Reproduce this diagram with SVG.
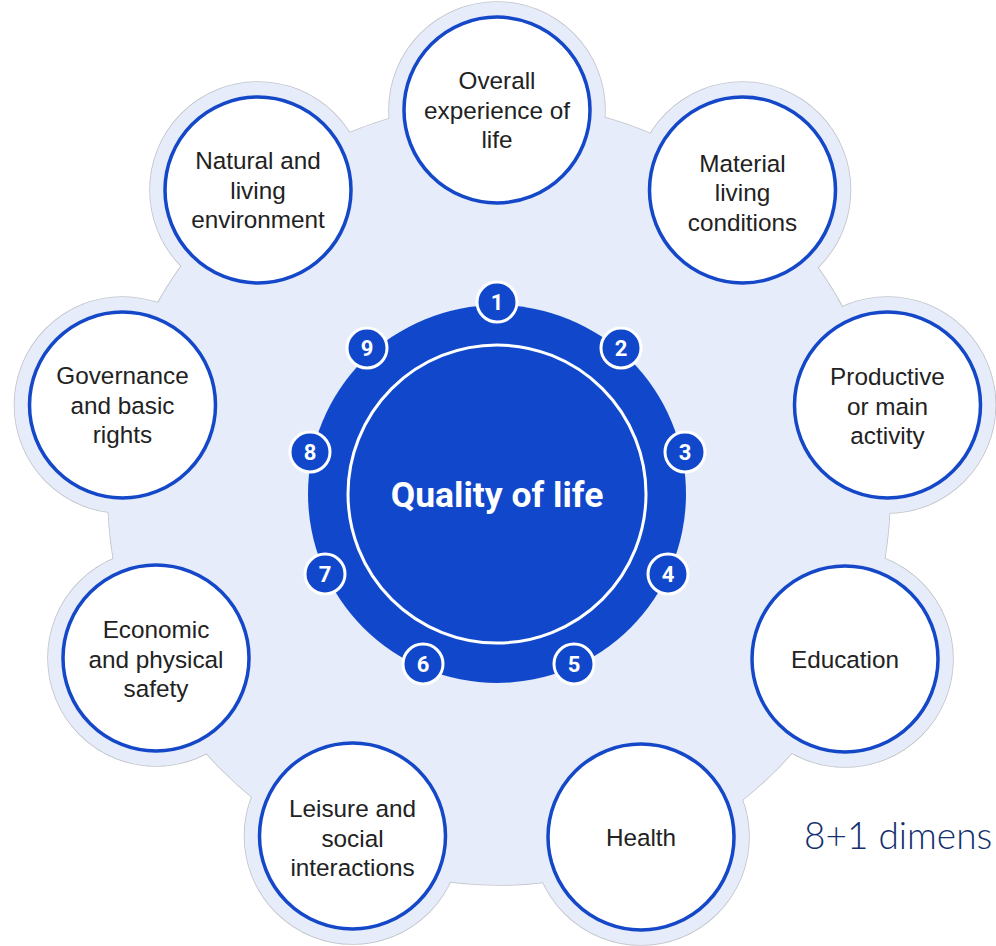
<svg xmlns="http://www.w3.org/2000/svg" width="996" height="946" viewBox="0 0 996 946">
<style>
.bgs{fill:none;stroke:#c2c4ca;stroke-width:1.6}
.bgf{fill:#e6ecf9}
.node{fill:#ffffff;stroke:#1448c8;stroke-width:3.5}
.lbl{font-family:"Liberation Sans",Arial,sans-serif;font-size:24.3px;fill:#222222;text-anchor:middle}
.badge{fill:#1148cb;stroke:#ffffff;stroke-width:3}
.num{font-family:Roboto,"Liberation Sans",sans-serif;font-weight:700;font-size:22px;fill:#ffffff;text-anchor:middle}
</style>
<rect width="996" height="946" fill="#ffffff"/>
<g id="background">
  <g class="bgs">
    <circle cx="499" cy="494" r="391"/>
    <circle cx="497" cy="110" r="108"/>
    <circle cx="742.5" cy="190" r="108"/>
    <circle cx="887.5" cy="405" r="108"/>
    <circle cx="845" cy="659" r="108"/>
    <circle cx="641" cy="837" r="108"/>
    <circle cx="352.5" cy="836" r="108"/>
    <circle cx="156" cy="658" r="108"/>
    <circle cx="122.5" cy="405" r="108"/>
    <circle cx="258" cy="190" r="108"/>
  </g>
  <g class="bgf">
    <circle cx="499" cy="494" r="391"/>
    <circle cx="497" cy="110" r="108"/>
    <circle cx="742.5" cy="190" r="108"/>
    <circle cx="887.5" cy="405" r="108"/>
    <circle cx="845" cy="659" r="108"/>
    <circle cx="641" cy="837" r="108"/>
    <circle cx="352.5" cy="836" r="108"/>
    <circle cx="156" cy="658" r="108"/>
    <circle cx="122.5" cy="405" r="108"/>
    <circle cx="258" cy="190" r="108"/>
  </g>
</g>
<g id="connectors"></g>
<g id="n-overall">
  <circle class="node" cx="497" cy="110" r="93"/>
  <text class="lbl" x="497" y="89">Overall</text>
  <text class="lbl" x="497" y="118.5">experience of</text>
  <text class="lbl" x="497" y="148">life</text>
</g>
<g id="n-material">
  <circle class="node" cx="742.5" cy="190" r="93"/>
  <text class="lbl" x="742.5" y="171.5">Material</text>
  <text class="lbl" x="742.5" y="201">living</text>
  <text class="lbl" x="742.5" y="230.5">conditions</text>
</g>
<g id="n-productive">
  <circle class="node" cx="887.5" cy="405" r="93"/>
  <text class="lbl" x="887.5" y="385">Productive</text>
  <text class="lbl" x="887.5" y="414.5">or main</text>
  <text class="lbl" x="887.5" y="444">activity</text>
</g>
<g id="n-education">
  <circle class="node" cx="845" cy="659" r="93"/>
  <text class="lbl" x="845" y="668">Education</text>
</g>
<g id="n-health">
  <circle class="node" cx="641" cy="837" r="93"/>
  <text class="lbl" x="641" y="846">Health</text>
</g>
<g id="n-leisure">
  <circle class="node" cx="352.5" cy="836" r="93"/>
  <text class="lbl" x="352.5" y="817">Leisure and</text>
  <text class="lbl" x="352.5" y="846.5">social</text>
  <text class="lbl" x="352.5" y="876">interactions</text>
</g>
<g id="n-economic">
  <circle class="node" cx="156" cy="658" r="93"/>
  <text class="lbl" x="156" y="638">Economic</text>
  <text class="lbl" x="156" y="667.5">and physical</text>
  <text class="lbl" x="156" y="697">safety</text>
</g>
<g id="n-governance">
  <circle class="node" cx="122.5" cy="405" r="93"/>
  <text class="lbl" x="122.5" y="384">Governance</text>
  <text class="lbl" x="122.5" y="413.5">and basic</text>
  <text class="lbl" x="122.5" y="443">rights</text>
</g>
<g id="n-natural">
  <circle class="node" cx="258" cy="190" r="93"/>
  <text class="lbl" x="258" y="169">Natural and</text>
  <text class="lbl" x="258" y="198.5">living</text>
  <text class="lbl" x="258" y="228">environment</text>
</g>
<g id="n-center">
  <circle cx="497" cy="494" r="189" fill="#1148cb"/>
  <circle cx="497" cy="494" r="149" fill="#1148cb" stroke="#ffffff" stroke-width="3"/>
  <text x="497" y="507" text-anchor="middle" font-family="Roboto,'Liberation Sans',sans-serif" font-weight="700" font-size="35.5" fill="#ffffff">Quality of life</text>
</g>
<g id="b1"><circle class="badge" cx="497" cy="302" r="20"/><text class="num" x="497" y="310">1</text></g>
<g id="b2"><circle class="badge" cx="621" cy="348" r="20"/><text class="num" x="621" y="356">2</text></g>
<g id="b3"><circle class="badge" cx="685" cy="452" r="20"/><text class="num" x="685" y="460">3</text></g>
<g id="b4"><circle class="badge" cx="668" cy="574" r="20"/><text class="num" x="668" y="582">4</text></g>
<g id="b5"><circle class="badge" cx="574" cy="664" r="20"/><text class="num" x="574" y="672">5</text></g>
<g id="b6"><circle class="badge" cx="423" cy="664" r="20"/><text class="num" x="423" y="672">6</text></g>
<g id="b7"><circle class="badge" cx="325" cy="574" r="20"/><text class="num" x="325" y="582">7</text></g>
<g id="b8"><circle class="badge" cx="310" cy="452" r="20"/><text class="num" x="310" y="460">8</text></g>
<g id="b9"><circle class="badge" cx="367" cy="348" r="20"/><text class="num" x="367" y="356">9</text></g>
<text x="804" y="849" font-family="Lato,'Open Sans',sans-serif" font-weight="300" font-size="37" fill="#132f6e">8+1 dimens</text>
</svg>
